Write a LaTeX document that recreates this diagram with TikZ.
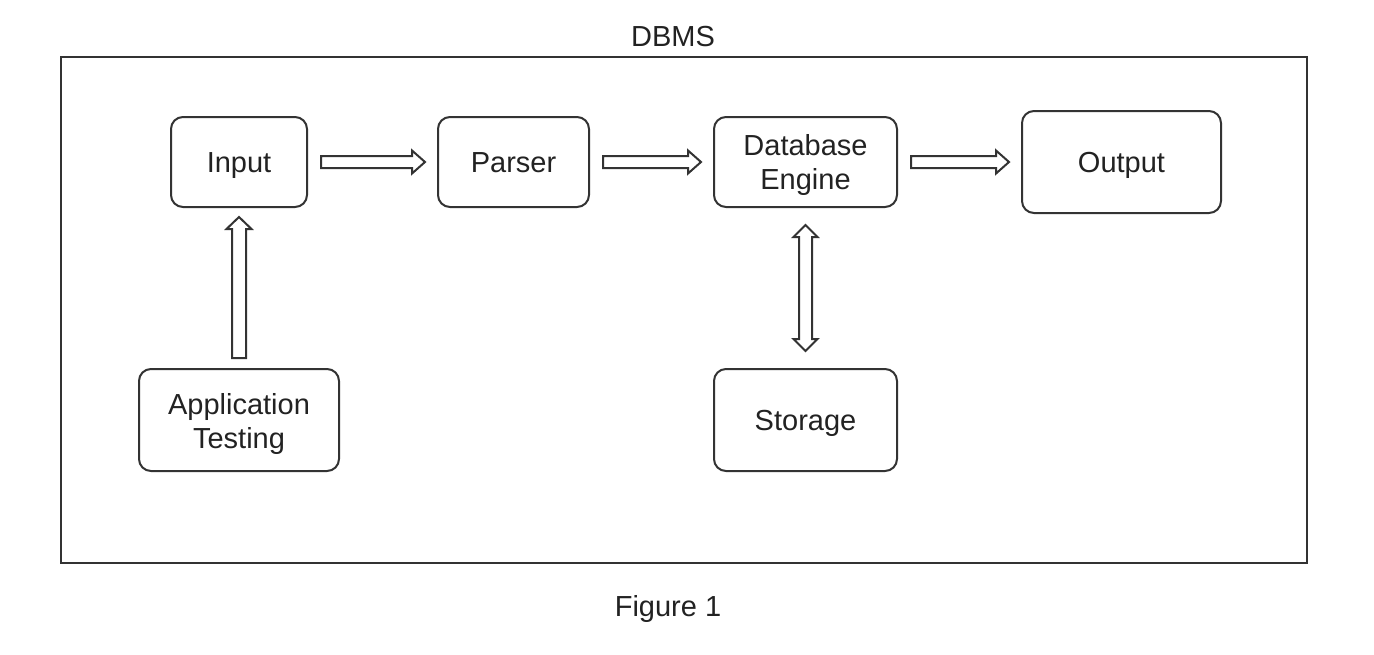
\documentclass[tikz,border=0pt]{standalone}
\usepackage{fontspec}
\setmainfont{Liberation Sans}
\usetikzlibrary{calc}
\definecolor{linegray}{HTML}{333333}
\definecolor{textgray}{HTML}{222222}
\newcommand\mkharrow[2]{%
  \path ($(#1.east)+(13,0)$) coordinate (hs) ($(#2.west)+(-12,0)$) coordinate (ht);
  \draw[blockarrow] ($(hs)+(0,-6)$) -- ($(ht)+(-13,-6)$) -- ($(ht)+(-13,-11.5)$) -- (ht)
    -- ($(ht)+(-13,11.5)$) -- ($(ht)+(-13,6)$) -- ($(hs)+(0,6)$) -- cycle;}
\newcommand\topstrut{\rule{0pt}{14pt}}
\begin{document}
\begin{tikzpicture}[x=0.5pt,y=-0.5pt,
  box/.style={draw=linegray, line width=1pt, rounded corners=6pt, align=center,
    font=\fontsize{14.5}{17}\selectfont, text=textgray, inner sep=0pt},
  oneline/.style={text height=10.4pt, text depth=0pt},
  blockarrow/.style={draw=linegray, line width=1pt, fill=white, line join=miter},
  lbl/.style={font=\fontsize{14.5}{17}\selectfont, text=textgray, inner sep=0pt,
    text height=10.4pt, text depth=0pt}]
\useasboundingbox (0,0) rectangle (1374,654);
\node[draw=linegray, line width=1pt, minimum width=623pt, minimum height=253pt, inner sep=0pt] (frame) at (684,310) {};
\node[lbl] (title) at (673,36) {DBMS};
\node[lbl] (fig) at (668,606) {Figure 1};
\node[box, oneline, minimum width=68pt, minimum height=45pt] (in) at (239,162) {Input};
\node[box, oneline, minimum width=75.5pt, minimum height=45pt] (par) at (513.5,162) {Parser};
\node[box, minimum width=91.5pt, minimum height=45pt] (db) at (805.5,162) {\topstrut Database\\Engine};
\node[box, oneline, minimum width=99.5pt, minimum height=51pt] (out) at (1121.5,162) {Output};
\node[box, minimum width=100pt, minimum height=51pt] (app) at (239,420) {\topstrut Application\\Testing};
\node[box, oneline, minimum width=91.5pt, minimum height=51pt] (sto) at (805.5,420) {Storage};
\mkharrow{in}{par}
\mkharrow{par}{db}
\mkharrow{db}{out}
% vertical arrow from Application Testing up to Input
\path ($(app.north)+(0,-10)$) coordinate (vs) ($(in.south)+(0,9)$) coordinate (vt);
\draw[blockarrow] ($(vs)+(-7,0)$) -- ($(vt)+(-7,12)$) -- ($(vt)+(-12.5,12)$) -- (vt)
  -- ($(vt)+(12.5,12)$) -- ($(vt)+(7,12)$) -- ($(vs)+(7,0)$) -- cycle;
% double arrow between Database Engine and Storage
\path ($(db.south)+(0,17)$) coordinate (ds) ($(sto.north)+(0,-17)$) coordinate (dt);
\draw[blockarrow] (ds) -- ($(ds)+(12,12)$) -- ($(ds)+(6.5,12)$) -- ($(dt)+(6.5,-12)$)
  -- ($(dt)+(12,-12)$) -- (dt) -- ($(dt)+(-12,-12)$) -- ($(dt)+(-6.5,-12)$)
  -- ($(ds)+(-6.5,12)$) -- ($(ds)+(-12,12)$) -- cycle;
\end{tikzpicture}
\end{document}
